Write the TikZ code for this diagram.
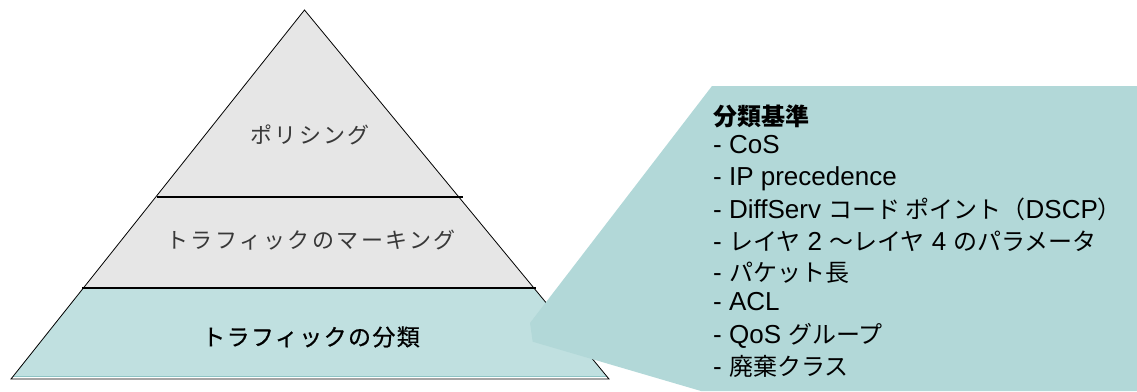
\documentclass[tikz,border=0pt]{standalone}
\usepackage{fontspec}
\usetikzlibrary{calc}
\setmainfont{Liberation Sans}
\newfontfamily\jpfont{Noto Sans CJK JP}
\newcommand{\jp}[1]{{\jpfont\fontsize{24}{30}\selectfont #1}}
\definecolor{secgray}{HTML}{E6E6E6}
\definecolor{secteal}{HTML}{C0E0E0}
\definecolor{secedge}{HTML}{8EC4C4}
\definecolor{calloutteal}{HTML}{B2D8D8}
\tikzset{
  layertext/.style={inner sep=0pt, text=black!78, font=\jpfont\fontsize{22}{26}\selectfont\addfontfeatures{LetterSpace=11}},
  basetext/.style={inner sep=0pt, text=black, font=\jpfont\fontsize{23}{26}\selectfont\addfontfeatures{LetterSpace=6,FakeBold=0.6}},
  itemtext/.style={inner sep=0pt, anchor=base west, text=black, font=\fontsize{26}{30}\selectfont},
  divider/.style={line width=1.6pt, black},
  outline/.style={line width=0.8pt, black}
}
\begin{document}
\begin{tikzpicture}[x=1pt,y=-1pt]
\useasboundingbox (0,0) rectangle (1137,391);
% pyramid corners
\coordinate (apex) at (304.5,10);
\coordinate (bl) at (11,379);
\coordinate (br) at (609,379);
\coordinate (l1) at ($(apex)!0.5068!(bl)$);
\coordinate (r1) at ($(apex)!0.5068!(br)$);
\coordinate (l2) at ($(apex)!0.7534!(bl)$);
\coordinate (r2) at ($(apex)!0.7534!(br)$);
\coordinate (l3) at ($(apex)!0.9919!(bl)$);
\coordinate (r3) at ($(apex)!0.9919!(br)$);
% sections
\fill[secgray] (apex) -- (r1) -- (l1) -- cycle;
\fill[secgray] (l1) -- (r1) -- (r2) -- (l2) -- cycle;
\fill[secteal] (l2) -- (r2) -- (r3) -- (l3) -- cycle;
\draw[secedge, line width=0.9pt] (l3) -- (r3);
\draw[outline] (apex) -- (br) -- (bl) -- cycle;
\draw[divider] ([xshift=1pt]l1) -- ([xshift=4pt]r1);
\draw[divider] ([xshift=-1pt]l2) -- ([xshift=2pt]r2);
% callout (drawn over the pyramid edge)
\fill[calloutteal] (712,86) -- (1137,86) -- (1137,391) -- (701,391) -- (532.7,341.7) -- (530,323) -- cycle;
% pyramid labels
\node[layertext] (policing) at (310,135) {ポリシング};
\node[layertext] (marking) at (311,240) {トラフィックのマーキング};
\node[basetext] (classify) at (311,337) {トラフィックの分類};
% criteria list
\node[itemtext] (head) at (713,125.2) {{\jpfont\bfseries\fontsize{24}{30}\selectfont 分類基準}};
\node[itemtext] (i1) at (713,153.5) {- CoS};
\node[itemtext] (i2) at (713,185.2) {- IP precedence};
\node[itemtext] (i3) at (713,218.5) {- DiffServ \jp{コード ポイント（}DSCP\jp{）}};
\node[itemtext] (i4) at (713,250.2) {- \jp{レイヤ} 2 \jp{～レイヤ} 4 \jp{のパラメータ}};
\node[itemtext] (i5) at (713,281.8) {- \jp{パケット長}};
\node[itemtext] (i6) at (713,310.2) {- ACL};
\node[itemtext] (i7) at (713,343.5) {- QoS \jp{グループ}};
\node[itemtext] (i8) at (713,375.2) {- \jp{廃棄クラス}};
\end{tikzpicture}
\end{document}
